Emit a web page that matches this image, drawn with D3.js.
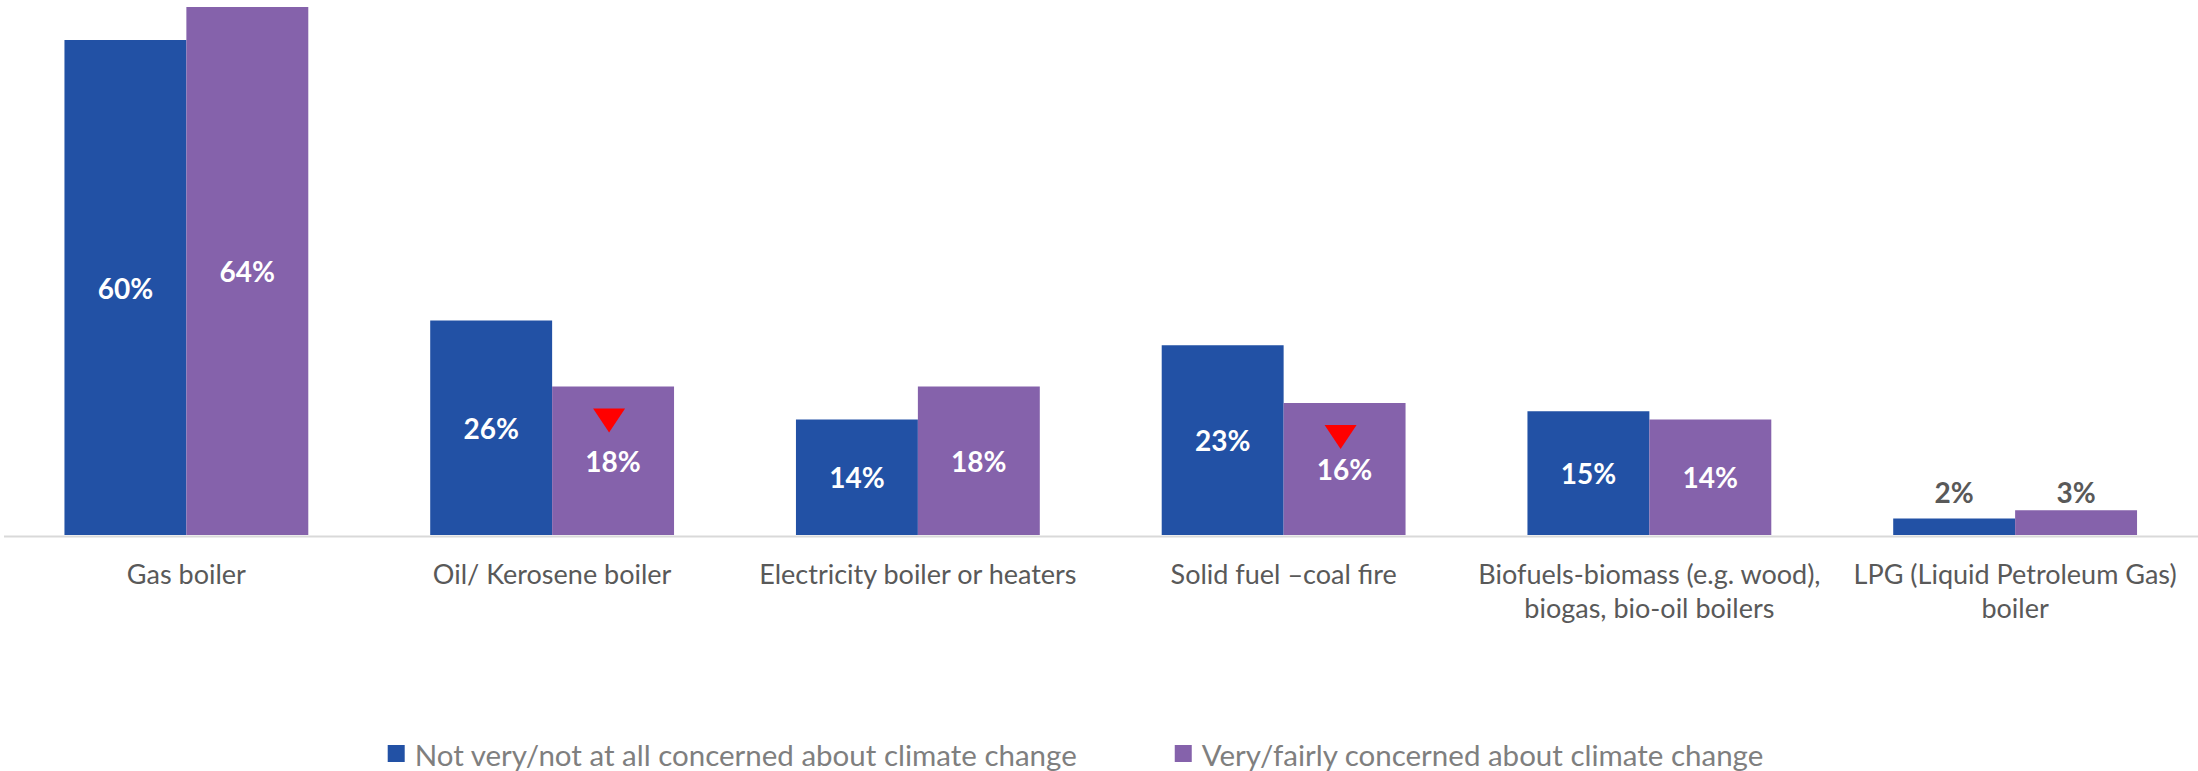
<!DOCTYPE html>
<html>
<head>
<meta charset="utf-8">
<script src="https://cdn.jsdelivr.net/npm/d3@7"></script>
<style>
  html, body { margin: 0; padding: 0; background: #ffffff; }
  svg { display: block; }
  text { font-family: Lato, "Open Sans", sans-serif; }
</style>
</head>
<body>
<div id="chart"></div>
<script>
// ---- Data ----
const categories = [
  "Gas boiler",
  "Oil/ Kerosene boiler",
  "Electricity boiler or heaters",
  "Solid fuel \u2013coal fire",
  "Biofuels-biomass (e.g. wood),\nbiogas, bio-oil boilers",
  "LPG (Liquid Petroleum Gas)\nboiler"
];
const seriesNames = [
  "Not very/not at all concerned about climate change",
  "Very/fairly concerned about climate change"
];
const notConcerned = [0.60, 0.26, 0.14, 0.23, 0.15, 0.02];
const concerned    = [0.64, 0.18, 0.18, 0.16, 0.14, 0.03];
// significantly lower than the other group (red down-triangle)
const sigLower     = [false, true, false, true, false, false];

// ---- Layout / style ----
const W = 2198, H = 771;
const colors = ["#2251a5", "#8562ab"];
const baseY = 535;

const svg = d3.select("#chart").append("svg")
  .attr("width", W).attr("height", H);

const x = d3.scaleBand()
  .domain(categories)
  .range([3.5, W])
  .paddingInner(1 / 3)
  .paddingOuter(1 / 6);

const xs = d3.scaleBand()
  .domain([0, 1])
  .range([0, x.bandwidth()]);

const y = d3.scaleLinear()
  .domain([0, 0.65])
  .range([baseY, baseY - 0.65 * 825]);

const rows = categories.map((c, i) => ({
  cat: c,
  vals: [notConcerned[i], concerned[i]],
  sig: sigLower[i]
}));

const groups = svg.append("g").selectAll("g.grp")
  .data(rows).join("g")
  .attr("class", "grp")
  .attr("transform", d => `translate(${x(d.cat)},0)`);

// bars
groups.selectAll("rect")
  .data(d => d.vals.map((v, s) => ({ v, s, max: d3.max(d.vals) })))
  .join("rect")
  .attr("x", d => xs(d.s))
  .attr("width", xs.bandwidth())
  .attr("y", d => y(d.v))
  .attr("height", d => baseY - y(d.v))
  .attr("fill", d => colors[d.s]);

// axis (baseline)
const axis = svg.append("g")
  .attr("transform", `translate(0,${baseY + 1})`)
  .call(d3.axisBottom(x).tickSize(0).tickPadding(0));
axis.select(".domain").attr("stroke", "#d9d9d9").attr("stroke-width", 2);
axis.selectAll(".tick text").each(function(d) {
  const t = d3.select(this);
  t.text(null)
    .attr("y", 0).attr("dy", null)
    .attr("fill", "#595959")
    .style("font-size", "27px")
    .style("font-family", "Lato, 'Open Sans', sans-serif");
  d.split("\n").forEach((line, i) => {
    t.append("tspan").attr("x", 0).attr("y", 48 + i * 34).text(line);
  });
});

// data labels
const fmt = d3.format(".0%");
const insideMin = 0.05;
groups.selectAll("text.lbl")
  .data(d => d.vals.map((v, s) => ({ v, s, max: d3.max(d.vals) })))
  .join("text")
  .attr("class", "lbl")
  .attr("x", d => xs(d.s) + xs.bandwidth() / 2)
  .attr("y", d => d.max < insideMin ? y(d.max) - 18 : (y(d.v) + baseY) / 2)
  .attr("text-anchor", "middle")
  .attr("dominant-baseline", "central")
  .attr("fill", d => d.max < insideMin ? "#595959" : "#ffffff")
  .style("font-weight", "700")
  .style("font-size", "28px")
  .text(d => fmt(d.v));

// significance triangles (on second series bar)
groups.filter(d => d.sig).append("path")
  .attr("fill", "#ff0000")
  .attr("d", d => {
    const cx = xs(1) + xs.bandwidth() / 2 - 4;
    const top = y(d.vals[1]) + 22;
    const p = d3.path();
    p.moveTo(cx - 16, top);
    p.lineTo(cx + 16, top);
    p.lineTo(cx, top + 24);
    p.closePath();
    return p.toString();
  });

// legend
const legend = svg.append("g").attr("transform", "translate(0,754)");
const items = legend.selectAll("g.item")
  .data(seriesNames).join("g").attr("class", "item");
items.append("rect")
  .attr("x", 0).attr("y", -9).attr("width", 17).attr("height", 17)
  .attr("fill", (d, i) => colors[i]);
items.append("text")
  .attr("x", 27).attr("y", 0)
  .attr("dominant-baseline", "central")
  .attr("fill", "#7f7f7f")
  .style("font-size", "29.5px")
  .text(d => d);
const widths = [];
items.each(function() {
  widths.push(27 + d3.select(this).select("text").node().getComputedTextLength());
});
const gap = 98;
const total = d3.sum(widths) + gap * (widths.length - 1);
let cx = 1075.5 - total / 2;
items.attr("transform", (d, i) => {
  const tx = cx;
  cx += widths[i] + gap;
  return `translate(${tx},0)`;
});
</script>
</body>
</html>
